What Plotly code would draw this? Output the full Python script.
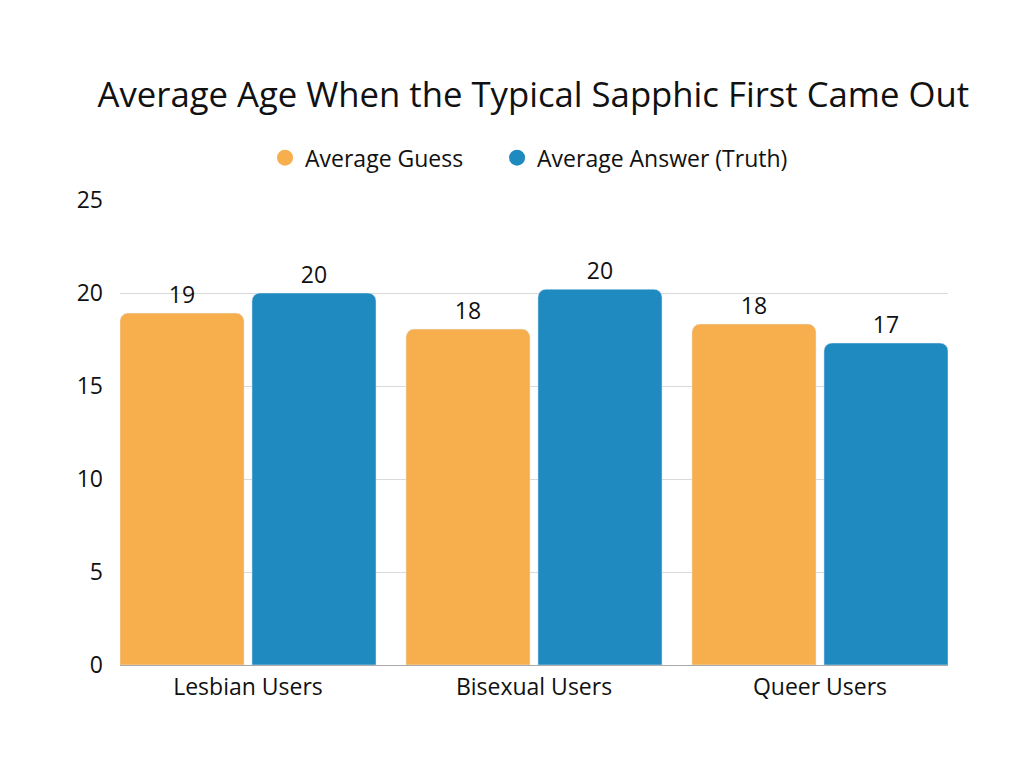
import plotly.graph_objects as go

categories = ["Lesbian Users", "Bisexual Users", "Queer Users"]
guess = [18.92, 18.06, 18.33]
truth = [20.0, 20.2, 17.31]
guess_labels = ["19", "18", "18"]
truth_labels = ["20", "20", "17"]
y_ticks = [0, 5, 10, 15, 20, 25]

ORANGE = "#F7AE4C"
BLUE = "#1F8AC0"
FONT = "Open Sans"
FS = 23

fig = go.Figure()
fig.add_trace(go.Bar(x=categories, y=guess, text=guess_labels, textposition="outside",
                     marker_color=ORANGE, showlegend=False, cliponaxis=False,
                     textfont=dict(size=FS, color="#111")))
fig.add_trace(go.Bar(x=categories, y=truth, text=truth_labels, textposition="outside",
                     marker_color=BLUE, showlegend=False, cliponaxis=False,
                     textfont=dict(size=FS, color="#111")))
# legend-only entries with circle markers
fig.add_trace(go.Scatter(x=[None], y=[None], mode="markers", name="Average Guess",
                         marker=dict(color=ORANGE, size=22, symbol="circle"),
                         legend="legend"))
fig.add_trace(go.Scatter(x=[None], y=[None], mode="markers", name="Average Answer (Truth)",
                         marker=dict(color=BLUE, size=22, symbol="circle"),
                         legend="legend2"))

leg_common = dict(orientation="h", xref="container", yref="container",
                  xanchor="left", yanchor="middle", y=0.805,
                  font=dict(size=FS), itemsizing="trace", itemwidth=30,
                  bgcolor="rgba(0,0,0,0)")

fig.update_layout(
    width=1024, height=768,
    paper_bgcolor="white", plot_bgcolor="white",
    font=dict(family=FONT, size=FS, color="#111"),
    title=dict(text="Average Age When the Typical Sapphic First Came Out",
               x=0.513, xanchor="center", y=0.887, yanchor="middle",
               font=dict(size=34.7, color="#111")),
    legend=dict(x=0.251, **leg_common),
    legend2=dict(x=0.4776, **leg_common),
    margin=dict(l=112, r=84, t=192, b=111, autoexpand=False),
    barmode="group", bargap=0.077, bargroupgap=0.06,
    barcornerradius=8,
)
fig.update_xaxes(range=[-0.4476, 2.4476], showgrid=False, showline=True,
                 linecolor="#aaa", linewidth=1, ticks="", ticklabelstandoff=1,
                 tickfont=dict(size=FS))
fig.update_yaxes(range=[0, 25], tickvals=y_ticks, showgrid=True, gridcolor="#d9d9d9",
                 gridwidth=1, zeroline=False, showline=False, ticks="",
                 ticklabelstandoff=16, tickfont=dict(size=FS))

fig.write_html("out.html")
